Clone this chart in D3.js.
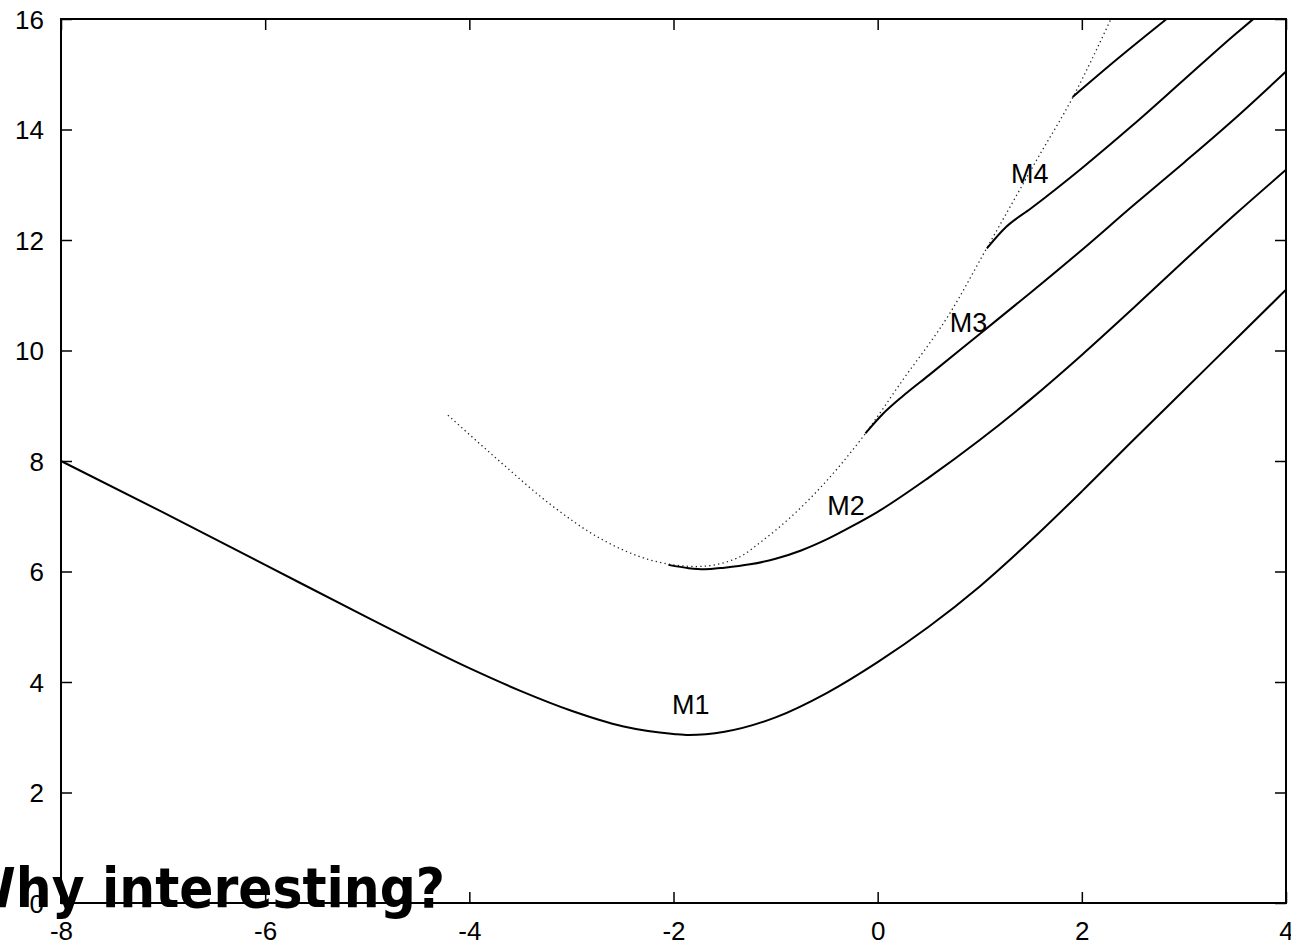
<!DOCTYPE html>
<html>
<head>
<meta charset="utf-8">
<script src="https://cdn.jsdelivr.net/npm/d3@7"></script>
<style>
  html, body { margin: 0; padding: 0; background: #fff; overflow: hidden; }
  svg { display: block; }
  .tick-label { font-family: "Liberation Sans", Arial, sans-serif; font-size: 26px; fill: #000; }
  .curve-label { font-family: "Liberation Sans", Arial, sans-serif; font-size: 27px; fill: #000; }
  .title { font-family: "DejaVu Sans Condensed", "DejaVu Sans", sans-serif; font-stretch: condensed; font-weight: bold; font-size: 56px; fill: #000; }
</style>
</head>
<body>
<div id="chart"></div>
<script>
const SVG_WIDTH = 1291;
const SVG_HEIGHT = 944;
const MARGIN = { top: 19, right: 5, bottom: 41, left: 61 };
const WIDTH = SVG_WIDTH - MARGIN.left - MARGIN.right;
const HEIGHT = SVG_HEIGHT - MARGIN.top - MARGIN.bottom;

const X_TICKS = [-8, -6, -4, -2, 0, 2, 4];
const Y_TICKS = [0, 2, 4, 6, 8, 10, 12, 14, 16];

// [x, y]
const m1 = [[-8, 8.0], [-7, 7.07], [-6, 6.12], [-5, 5.17], [-4, 4.25], [-3.5, 3.84], [-3, 3.48],
  [-2.5, 3.2], [-2, 3.06], [-1.85, 3.04], [-1.5, 3.1], [-1, 3.36], [-0.5, 3.8], [0, 4.36],
  [0.5, 5.0], [1, 5.73], [1.5, 6.56], [2, 7.45], [2.5, 8.37], [3, 9.28], [3.5, 10.19], [4, 11.1]];
const m2 = [[-2.05, 6.12], [-1.85, 6.06], [-1.7, 6.04], [-1.5, 6.07], [-1.25, 6.13], [-1, 6.23],
  [-0.75, 6.38], [-0.5, 6.58], [-0.25, 6.82], [0, 7.08], [0.5, 7.7], [1, 8.38], [1.5, 9.12],
  [2, 9.92], [2.5, 10.76], [3, 11.62], [3.5, 12.46], [4, 13.27]];
const m3 = [[-0.12, 8.5], [0.05, 8.85], [0.25, 9.18], [0.5, 9.55], [1, 10.3], [1.5, 11.05],
  [2, 11.82], [2.5, 12.62], [3, 13.4], [3.5, 14.2], [4, 15.05]];
const m4 = [[1.07, 11.85], [1.26, 12.24], [1.5, 12.57], [2, 13.3], [2.5, 14.08], [3, 14.9], [3.5, 15.72], [3.68, 16.0]];
const m5 = [[1.91, 14.59], [2.35, 15.28], [2.83, 16.0]];
const dotted = [[-4.21, 8.83], [-3.7, 7.99], [-3.21, 7.22], [-2.72, 6.6], [-2.23, 6.21], [-2.0, 6.12],
  [-1.77, 6.09], [-1.38, 6.24], [-1.12, 6.57], [-0.565, 7.51], [-0.156, 8.41], [0.236, 9.44],
  [0.709, 10.68], [1.068, 11.85], [1.558, 13.45], [1.914, 14.59], [2.28, 15.98]];

const SOLID_CURVES = [m1, m2, m3, m4, m5];
const CURVE_LABELS = [
  { text: "M1", x: -1.83, y: 3.42 },
  { text: "M2", x: -0.31, y: 7.02 },
  { text: "M3", x: 0.89, y: 10.33 },
  { text: "M4", x: 1.49, y: 13.03 }
];
const TITLE = "Why interesting?";

const svg = d3.select("#chart")
    .append("svg")
    .attr("width", SVG_WIDTH)
    .attr("height", SVG_HEIGHT);

const g = svg.append("g")
    .attr("transform", `translate(${MARGIN.left},${MARGIN.top})`);

const xScale = d3.scaleLinear().domain([-8, 4]).range([0, WIDTH]);
const yScale = d3.scaleLinear().domain([0, 16]).range([HEIGHT, 0]);

const TICK_LEN = 11;

// inward ticks on all four sides, gnuplot style
const axisStyle = sel => {
    sel.select(".domain").remove();
    sel.selectAll(".tick line").attr("stroke", "#000").attr("stroke-width", 1.5);
};

g.append("g")
    .attr("transform", `translate(0,${HEIGHT})`)
    .call(d3.axisBottom(xScale).tickValues(X_TICKS).tickSize(-TICK_LEN).tickFormat(d => String(d)))
    .call(axisStyle)
    .call(s => s.selectAll(".tick text").attr("class", "tick-label").attr("dy", null).attr("y", 37));

g.append("g")
    .call(d3.axisTop(xScale).tickValues(X_TICKS).tickSize(-TICK_LEN).tickFormat(""))
    .call(axisStyle);

g.append("g")
    .call(d3.axisLeft(yScale).tickValues(Y_TICKS).tickSize(-TICK_LEN).tickFormat(d => String(d)))
    .call(axisStyle)
    .call(s => s.selectAll(".tick text").attr("class", "tick-label").attr("x", -17).attr("dy", "0.36em"));

g.append("g")
    .attr("transform", `translate(${WIDTH},0)`)
    .call(d3.axisRight(yScale).tickValues(Y_TICKS).tickSize(-TICK_LEN).tickFormat(""))
    .call(axisStyle);

// d3 axes set font attrs on the group; let the css class win
g.selectAll("g").attr("font-size", null).attr("font-family", null);

const line = d3.line()
    .x(d => xScale(d[0]))
    .y(d => yScale(d[1]))
    .curve(d3.curveMonotoneX);

g.append("path")
    .datum(dotted)
    .attr("d", line)
    .attr("fill", "none")
    .attr("stroke", "#222")
    .attr("stroke-width", 1.3)
    .attr("stroke-dasharray", "1.3,3.2");

g.selectAll(".curve")
    .data(SOLID_CURVES)
    .join("path")
    .attr("class", "curve")
    .attr("d", line)
    .attr("fill", "none")
    .attr("stroke", "#000")
    .attr("stroke-width", 2);

g.selectAll(".curve-label")
    .data(CURVE_LABELS)
    .join("text")
    .attr("class", "curve-label")
    .attr("x", d => xScale(d.x))
    .attr("y", d => yScale(d.y))
    .attr("text-anchor", "middle")
    .text(d => d.text);

g.append("rect")
    .attr("x", 0)
    .attr("y", 0)
    .attr("width", WIDTH)
    .attr("height", HEIGHT)
    .attr("fill", "none")
    .attr("stroke", "#000")
    .attr("stroke-width", 2);

svg.append("text")
    .attr("class", "title")
    .attr("x", 445)
    .attr("y", 907)
    .attr("text-anchor", "end")
    .text(TITLE);
</script>
</body>
</html>
